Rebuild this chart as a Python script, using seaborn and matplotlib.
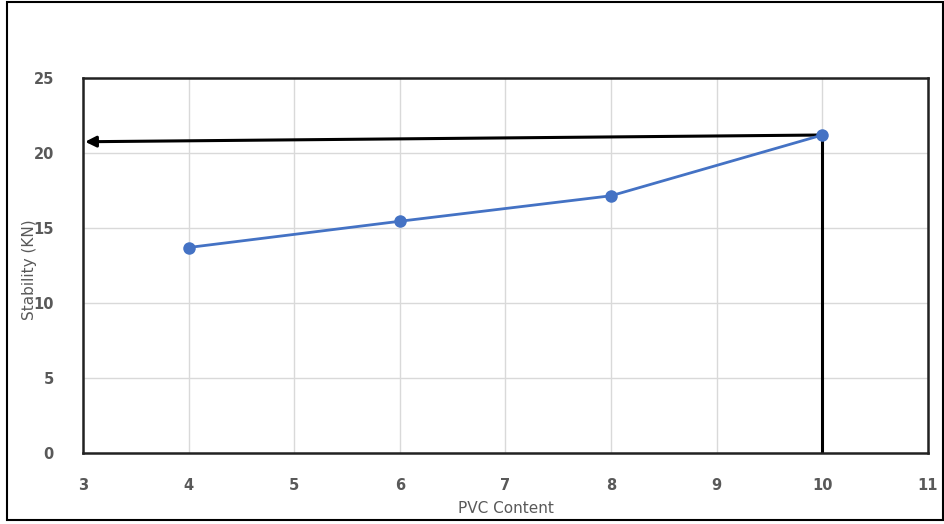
import matplotlib
matplotlib.use("Agg")
import matplotlib.pyplot as plt
import seaborn as sns
import pandas as pd
from matplotlib.patches import Rectangle

pvc_content = [4, 6, 8, 10]
stability = [13.7, 15.45, 17.15, 21.2]
x_ticks = [3, 4, 5, 6, 7, 8, 9, 10, 11]
y_ticks = [0, 5, 10, 15, 20, 25]
arrow_end_y = 20.75

sns.set_theme(style="whitegrid")
plt.rcParams['font.family'] = ['DejaVu Sans']

fig = plt.figure(figsize=(9.45, 5.24), dpi=100)
ax = fig.add_axes([83/945, 71/524, 845/945, 375/524])

df = pd.DataFrame({"PVC Content": pvc_content, "Stability (KN)": stability})
sns.lineplot(data=df, x="PVC Content", y="Stability (KN)", ax=ax, color="#4472C4",
             marker="o", markersize=9, markeredgewidth=0, linewidth=2)

ax.set_xlim(3, 11)
ax.set_ylim(0, 25)
ax.set_xticks(x_ticks)
ax.set_yticks(y_ticks)
ax.grid(True, color="#d9d9d9", linewidth=1)
for s in ax.spines.values():
    s.set_color("#222222")
    s.set_linewidth(1.8)

ax.tick_params(axis="x", length=0, pad=18, labelsize=10.5, labelcolor="#595959")
ax.tick_params(axis="y", length=0, pad=21, labelsize=10.5, labelcolor="#595959")
for lab in ax.get_xticklabels() + ax.get_yticklabels():
    lab.set_fontweight("bold")

ax.set_xlabel("PVC Content", fontsize=11, color="#595959")
ax.set_ylabel("Stability (KN)", fontsize=11, color="#595959")
ax.yaxis.set_label_coords(-0.054, 0.488)
ax.xaxis.set_label_coords(0.5, -0.128)

# annotation lines
x_last, y_last = pvc_content[-1], stability[-1]
ax.annotate("", xy=(3.02, arrow_end_y), xytext=(x_last, y_last),
            arrowprops=dict(arrowstyle="-|>", color="black", lw=2.2,
                            mutation_scale=16, shrinkA=0, shrinkB=0), zorder=1)
ax.plot([x_last, x_last], [y_last, 0], color="black", linewidth=2.2, zorder=1)

fig.patches.append(Rectangle((7/945, 4/524), 936/945, 518/524, transform=fig.transFigure,
                             fill=False, edgecolor="black", linewidth=1.5))

fig.savefig("out.png", dpi=100)
